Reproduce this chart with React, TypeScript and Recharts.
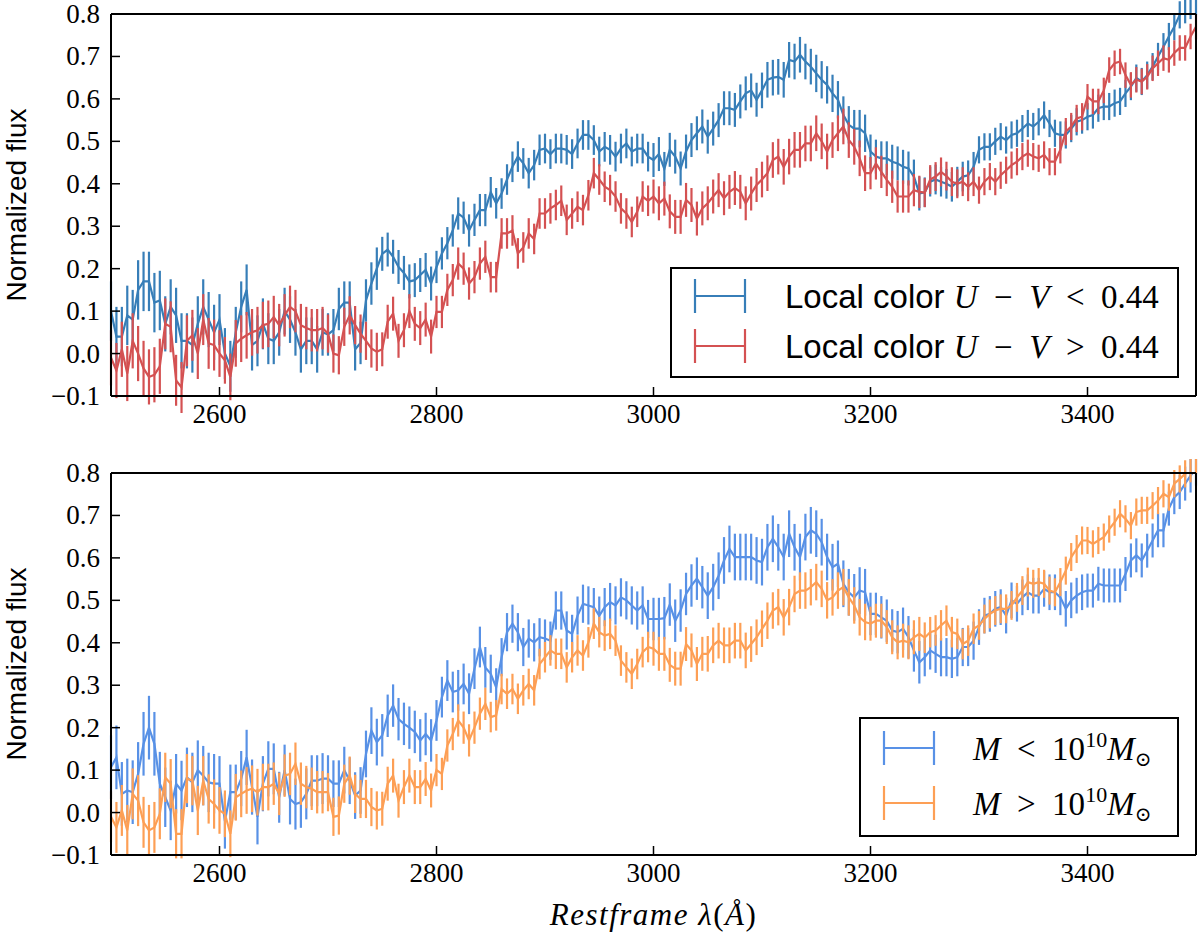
import React from "react";
import { LineChart, Line, XAxis, YAxis, ErrorBar, Legend } from "recharts";

// spectra sampled every 5 Å from 2500 Å
const WL_START = 2500;
const WL_STEP = 5;

const topBlue = [
  0.10, 0.04, 0.04, 0.09, 0.08, 0.15, 0.17, 0.17, 0.12, 0.125,
  0.07, 0.11, 0.09, 0.03, 0.03, 0.02, 0.07, 0.11, 0.08, 0.05,
  0.08, 0.00, -0.03, 0.05, 0.11, 0.15, 0.02, 0.03, 0.07, 0.035,
  0.03, 0.05, 0.10, 0.08, 0.05, 0.01, 0.03, 0.03, 0.01, 0.05,
  0.045, 0.055, 0.105, 0.12, 0.12, 0.01, 0.025, 0.125, 0.165, 0.20,
  0.235, 0.245, 0.228, 0.204, 0.19, 0.17, 0.173, 0.185, 0.197, 0.165,
  0.204, 0.236, 0.26, 0.29, 0.33, 0.32, 0.29, 0.315, 0.338, 0.338,
  0.38, 0.354, 0.377, 0.41, 0.44, 0.464, 0.448, 0.425, 0.444, 0.48,
  0.483, 0.47, 0.483, 0.483, 0.48, 0.47, 0.495, 0.515, 0.515, 0.503,
  0.476, 0.487, 0.48, 0.464, 0.483, 0.495, 0.476, 0.483, 0.483, 0.464,
  0.456, 0.47, 0.435, 0.48, 0.464, 0.436, 0.476, 0.503, 0.519, 0.535,
  0.511, 0.53, 0.55, 0.578, 0.578, 0.574, 0.594, 0.613, 0.62, 0.598,
  0.62, 0.645, 0.65, 0.652, 0.645, 0.692, 0.688, 0.704, 0.688, 0.676,
  0.66, 0.645, 0.633, 0.613, 0.598, 0.562, 0.539, 0.53, 0.53, 0.519,
  0.476, 0.464, 0.46, 0.46, 0.452, 0.448, 0.44, 0.436, 0.417, 0.377,
  0.38, 0.405, 0.41, 0.405, 0.40, 0.393, 0.405, 0.417, 0.42, 0.44,
  0.48, 0.487, 0.487, 0.50, 0.511, 0.503, 0.515, 0.519, 0.53, 0.542,
  0.535, 0.546, 0.562, 0.542, 0.519, 0.515, 0.515, 0.53, 0.546, 0.55,
  0.558, 0.562, 0.578, 0.582, 0.582, 0.59, 0.594, 0.613, 0.629, 0.649,
  0.641, 0.656, 0.676, 0.70, 0.723, 0.747, 0.77, 0.798, 0.81, 0.82,
  0.83,
];

const topRed = [
  -0.01, -0.04, 0.01, -0.047, 0.03, 0.0, -0.035, -0.055, -0.05, -0.03,
  0.07, 0.063, -0.063, -0.08, 0.03, 0.043, 0.0, 0.08, 0.024, 0.02,
  0.0, -0.016, -0.055, 0.024, 0.035, 0.043, 0.05, 0.055, 0.067, 0.07,
  0.086, 0.067, 0.09, 0.11, 0.10, 0.067, 0.06, 0.055, 0.055, 0.06,
  0.047, 0.0, -0.004, 0.063, 0.09, 0.067, 0.047, 0.03, 0.012, 0.004,
  0.01, 0.075, 0.094, 0.03, 0.055, 0.10, 0.07, 0.06, 0.08, 0.04,
  0.098, 0.098, 0.15, 0.173, 0.212, 0.20, 0.165, 0.18, 0.212, 0.228,
  0.18, 0.18, 0.283, 0.283, 0.29, 0.236, 0.25, 0.283, 0.27, 0.33,
  0.33, 0.342, 0.35, 0.36, 0.315, 0.33, 0.346, 0.338, 0.373, 0.425,
  0.41, 0.393, 0.385, 0.37, 0.342, 0.33, 0.31, 0.334, 0.37, 0.36,
  0.37, 0.354, 0.365, 0.335, 0.322, 0.322, 0.362, 0.35, 0.318, 0.342,
  0.354, 0.37, 0.385, 0.366, 0.381, 0.39, 0.381, 0.354, 0.377, 0.397,
  0.41, 0.425, 0.456, 0.464, 0.44, 0.464, 0.48, 0.48, 0.495, 0.495,
  0.519, 0.50, 0.476, 0.503, 0.519, 0.535, 0.503, 0.487, 0.46, 0.425,
  0.425, 0.448, 0.428, 0.409, 0.393, 0.37, 0.37, 0.37, 0.385, 0.381,
  0.379, 0.41, 0.417, 0.428, 0.418, 0.405, 0.40, 0.405, 0.393, 0.405,
  0.385, 0.405, 0.417, 0.405, 0.42, 0.432, 0.444, 0.452, 0.464, 0.472,
  0.464, 0.46, 0.468, 0.452, 0.452, 0.48, 0.523, 0.535, 0.554, 0.558,
  0.605, 0.594, 0.594, 0.62, 0.668, 0.684, 0.688, 0.656, 0.633, 0.645,
  0.641, 0.652, 0.672, 0.684, 0.696, 0.692, 0.708, 0.72, 0.72, 0.747,
  0.77,
];

const bottomBlue = [
  0.107, 0.13, 0.044, 0.052, 0.048, 0.091, 0.162, 0.20, 0.162, 0.068,
  0.036, 0.005, 0.068, 0.052, 0.083, 0.071, 0.10, 0.087, 0.071, 0.068,
  0.068, -0.02, 0.048, 0.048, 0.08, 0.13, 0.06, -0.01, 0.068, 0.103,
  0.103, 0.036, 0.10, 0.032, 0.02, 0.024, 0.044, 0.075, 0.075, 0.08,
  0.08, 0.068, 0.068, 0.10, 0.075, 0.04, 0.052, 0.138, 0.193, 0.166,
  0.182, 0.228, 0.252, 0.22, 0.209, 0.20, 0.19, 0.17, 0.185, 0.17,
  0.217, 0.272, 0.311, 0.284, 0.288, 0.303, 0.28, 0.339, 0.39, 0.342,
  0.327, 0.295, 0.366, 0.425, 0.445, 0.425, 0.39, 0.41, 0.401, 0.413,
  0.41, 0.405, 0.476, 0.476, 0.429, 0.421, 0.464, 0.492, 0.488, 0.484,
  0.464, 0.484, 0.496, 0.488, 0.507, 0.50, 0.488, 0.476, 0.488, 0.456,
  0.456, 0.456, 0.458, 0.49, 0.452, 0.476, 0.515, 0.535, 0.551, 0.531,
  0.511, 0.531, 0.558, 0.594, 0.621, 0.602, 0.602, 0.602, 0.602, 0.594,
  0.59, 0.625, 0.645, 0.625, 0.602, 0.657, 0.625, 0.602, 0.649, 0.665,
  0.657, 0.637, 0.602, 0.578, 0.586, 0.539, 0.519, 0.507, 0.523, 0.519,
  0.468, 0.468, 0.46, 0.452, 0.429, 0.425, 0.433, 0.413, 0.382, 0.354,
  0.366, 0.382, 0.374, 0.366, 0.366, 0.362, 0.366, 0.39, 0.39, 0.405,
  0.437, 0.464, 0.468, 0.48, 0.484, 0.464, 0.50, 0.492, 0.507, 0.519,
  0.511, 0.511, 0.527, 0.519, 0.519, 0.507, 0.48, 0.50, 0.511, 0.519,
  0.523, 0.523, 0.539, 0.535, 0.535, 0.535, 0.535, 0.562, 0.594, 0.606,
  0.594, 0.617, 0.641, 0.665, 0.665, 0.716, 0.743, 0.755, 0.775, 0.794,
  0.81,
];

const bottomOrange = [
  -0.01, -0.035, 0.005, -0.042, 0.044, 0.028, -0.023, -0.042, -0.035, -0.003,
  0.083, 0.068, -0.05, -0.05, 0.08, 0.075, 0.005, 0.075, 0.032, 0.02,
  0.005, -0.003, -0.05, 0.036, 0.044, 0.052, 0.056, 0.048, 0.06, 0.06,
  0.068, 0.044, 0.087, 0.091, 0.115, 0.068, 0.06, 0.056, 0.048, 0.048,
  0.048, -0.01, -0.007, 0.068, 0.087, 0.044, 0.032, 0.032, 0.013, 0.005,
  0.009, 0.068, 0.087, 0.028, 0.06, 0.087, 0.06, 0.06, 0.079, 0.052,
  0.10, 0.091, 0.158, 0.185, 0.217, 0.20, 0.17, 0.20, 0.233, 0.256,
  0.225, 0.229, 0.291, 0.28, 0.291, 0.268, 0.288, 0.303, 0.288, 0.35,
  0.366, 0.382, 0.374, 0.374, 0.342, 0.366, 0.382, 0.37, 0.401, 0.445,
  0.425, 0.417, 0.421, 0.405, 0.358, 0.342, 0.327, 0.35, 0.378, 0.39,
  0.386, 0.374, 0.374, 0.348, 0.339, 0.339, 0.397, 0.382, 0.35, 0.374,
  0.374, 0.394, 0.405, 0.394, 0.394, 0.405, 0.405, 0.382, 0.397, 0.413,
  0.433, 0.452, 0.476, 0.484, 0.46, 0.484, 0.515, 0.523, 0.523, 0.531,
  0.543, 0.527, 0.50, 0.507, 0.523, 0.531, 0.507, 0.488, 0.46, 0.449,
  0.445, 0.452, 0.452, 0.437, 0.413, 0.401, 0.405, 0.401, 0.413, 0.421,
  0.412, 0.425, 0.429, 0.441, 0.452, 0.425, 0.421, 0.397, 0.405, 0.433,
  0.441, 0.456, 0.468, 0.476, 0.48, 0.48, 0.488, 0.507, 0.523, 0.543,
  0.539, 0.543, 0.539, 0.523, 0.519, 0.543, 0.57, 0.602, 0.621, 0.641,
  0.641, 0.633, 0.641, 0.649, 0.668, 0.684, 0.704, 0.692, 0.676, 0.708,
  0.712, 0.712, 0.723, 0.735, 0.751, 0.743, 0.775, 0.786, 0.798, 0.81,
  0.83,
];

// half-length of the error bars, one value per 50 Å block
const topBlueErr = [0.07, 0.065, 0.06, 0.055, 0.05, 0.04, 0.038, 0.036, 0.035, 0.035, 0.04, 0.04, 0.042, 0.044, 0.04, 0.035, 0.032, 0.032, 0.032, 0.032, 0.032];
const topRedErr = [0.065, 0.06, 0.055, 0.05, 0.045, 0.04, 0.038, 0.036, 0.036, 0.036, 0.04, 0.04, 0.042, 0.042, 0.038, 0.034, 0.032, 0.032, 0.03, 0.03, 0.03];
const bottomBlueErr = [0.075, 0.07, 0.065, 0.06, 0.055, 0.05, 0.048, 0.045, 0.045, 0.045, 0.05, 0.055, 0.055, 0.055, 0.05, 0.045, 0.042, 0.042, 0.04, 0.04, 0.04];
const bottomOrangeErr = [0.06, 0.058, 0.055, 0.05, 0.045, 0.04, 0.038, 0.036, 0.036, 0.036, 0.04, 0.042, 0.043, 0.043, 0.04, 0.036, 0.034, 0.033, 0.032, 0.032, 0.032];

const xTicks = [2600, 2800, 3000, 3200, 3400];
const yTicks = [-0.1, 0, 0.1, 0.2, 0.3, 0.4, 0.5, 0.6, 0.7, 0.8];

const TOP_COLORS = ["#377eb8", "#d45152"];
const BOTTOM_COLORS = ["#5891e6", "#fd9f55"];

const SERIF = "'Liberation Serif', 'Times New Roman', serif";
const SANS = "'Liberation Sans', Arial, sans-serif";

function buildRows(a: number[], aErr: number[], b: number[], bErr: number[]) {
  return a.map((v, i) => ({
    wl: WL_START + WL_STEP * i,
    a: v,
    aErr: aErr[Math.floor(i / 10)],
    b: b[i],
    bErr: bErr[Math.floor(i / 10)],
  }));
}

const fmtY = (v: number) => (v < 0 ? "\u2212" + Math.abs(v).toFixed(1) : v.toFixed(1));

function XTick({ x, y, payload }: any) {
  return (
    <text x={x} y={y + 19} textAnchor="middle" fontFamily={SERIF} fontSize={27} fill="#000">
      {payload.value}
    </text>
  );
}

function YTick({ x, y, payload }: any) {
  return (
    <text x={x} y={y + 9} textAnchor="end" fontFamily={SERIF} fontSize={27} fill="#000">
      {fmtY(payload.value)}
    </text>
  );
}

function YLabel({ viewBox }: any) {
  const vb = viewBox || { x: 0, y: 14, width: 111, height: 382 };
  const cy = vb.y + vb.height / 2;
  return (
    <text transform={`translate(26, ${cy}) rotate(-90)`} textAnchor="middle" fontFamily={SANS} fontSize={28} fill="#000">
      Normalized flux
    </text>
  );
}

function XLabel({ viewBox }: any) {
  const vb = viewBox || { x: 111, y: 396, width: 1085, height: 84 };
  return (
    <text x={vb.x + vb.width / 2} y={vb.y + 70} textAnchor="middle" fontFamily={SERIF} fontSize={31} fontStyle="italic" letterSpacing={1.5} fill="#000">
      Restframe λ<tspan fontStyle="normal">(</tspan>Å<tspan fontStyle="normal">)</tspan>
    </text>
  );
}

function Glyph({ cy, color }: { cy: number; color: string }) {
  return (
    <g stroke={color} strokeWidth={2.2}>
      <line x1={25} x2={75} y1={cy} y2={cy} />
      <line x1={25} x2={25} y1={cy - 17} y2={cy + 17} />
      <line x1={75} x2={75} y1={cy - 17} y2={cy + 17} />
    </g>
  );
}

function ColorLabel({ y, op }: { y: number; op: string }) {
  return (
    <text x={115} y={y} fontSize={33} fill="#000">
      <tspan fontFamily={SANS}>Local color </tspan>
      <tspan fontFamily={SERIF} fontStyle="italic">U</tspan>
      <tspan fontFamily={SERIF}>{"\u2002\u2212\u2002"}</tspan>
      <tspan fontFamily={SERIF} fontStyle="italic">V</tspan>
      <tspan fontFamily={SERIF}>{"\u2002" + op + "\u20020.44"}</tspan>
    </text>
  );
}

function MassLabel({ y, op }: { y: number; op: string }) {
  return (
    <text x={114} y={y} fontSize={33} fill="#000" fontFamily={SERIF}>
      <tspan fontStyle="italic">M</tspan>
      <tspan>{"\u2002" + op + "\u200210"}</tspan>
      <tspan fontSize={22} dy={-13}>10</tspan>
      <tspan fontStyle="italic" dy={13}>M</tspan>
      <tspan fontSize={20} dy={6} fontFamily="'DejaVu Serif', serif">⊙</tspan>
    </text>
  );
}

const colorLegend = () => (
  <svg width={509} height={111} style={{ display: "block" }}>
    <rect x={1} y={1} width={507} height={109} fill="#fff" stroke="#000" strokeWidth={2} />
    <Glyph cy={29} color={TOP_COLORS[0]} />
    <ColorLabel y={41} op="<" />
    <Glyph cy={79} color={TOP_COLORS[1]} />
    <ColorLabel y={91} op=">" />
  </svg>
);

const massLegend = () => (
  <svg width={320} height={120} style={{ display: "block" }}>
    <rect x={1} y={1} width={318} height={118} fill="#fff" stroke="#000" strokeWidth={2} />
    <Glyph cy={31} color={BOTTOM_COLORS[0]} />
    <MassLabel y={43} op="<" />
    <Glyph cy={86} color={BOTTOM_COLORS[1]} />
    <MassLabel y={98} op=">" />
  </svg>
);

const axisLine = { stroke: "#000", strokeWidth: 2 };
const tickLine = { stroke: "#000", strokeWidth: 1.5 };

function Panel({ rows, colors, legend, legendBox, top, height, xLabel }: any) {
  return (
    <div style={{ position: "absolute", left: 0, top }}>
      <LineChart width={1200} height={height} data={rows} margin={{ top: 13, right: 3, bottom: 0, left: 0 }}>
        <XAxis
          xAxisId="bottom"
          dataKey="wl"
          type="number"
          domain={[2500, 3500]}
          ticks={xTicks}
          interval={0}
          allowDataOverflow
          height={xLabel ? 84 : 44}
          axisLine={axisLine}
          tickLine={tickLine}
          tickSize={-9}
          tickMargin={17}
          tick={<XTick />}
          label={xLabel ? <XLabel /> : undefined}
        />
        <XAxis
          xAxisId="top"
          orientation="top"
          dataKey="wl"
          type="number"
          domain={[2500, 3500]}
          ticks={xTicks}
          interval={0}
          allowDataOverflow
          height={1}
          axisLine={axisLine}
          tickLine={tickLine}
          tickSize={-9}
          tick={false}
        />
        <YAxis
          yAxisId="left"
          type="number"
          domain={[-0.1, 0.8]}
          ticks={yTicks}
          interval={0}
          allowDataOverflow
          width={111}
          axisLine={axisLine}
          tickLine={tickLine}
          tickSize={-9}
          tickMargin={20}
          tick={<YTick />}
          label={<YLabel />}
        />
        <YAxis
          yAxisId="right"
          orientation="right"
          type="number"
          domain={[-0.1, 0.8]}
          ticks={yTicks}
          interval={0}
          allowDataOverflow
          width={1}
          axisLine={axisLine}
          tickLine={tickLine}
          tickSize={-9}
          tick={false}
        />
        <Line xAxisId="bottom" yAxisId="left" type="linear" dataKey="a" stroke={colors[0]} strokeWidth={2.2} dot={false} isAnimationActive={false}>
          <ErrorBar dataKey="aErr" direction="y" width={0} stroke={colors[0]} strokeWidth={2.2} isAnimationActive={false} />
        </Line>
        <Line xAxisId="bottom" yAxisId="left" type="linear" dataKey="b" stroke={colors[1]} strokeWidth={2.2} dot={false} isAnimationActive={false}>
          <ErrorBar dataKey="bErr" direction="y" width={0} stroke={colors[1]} strokeWidth={2.2} isAnimationActive={false} />
        </Line>
        <Legend
          layout="horizontal"
          verticalAlign="middle"
          align="center"
          content={legend}
          wrapperStyle={{ position: "absolute", ...legendBox }}
        />
      </LineChart>
    </div>
  );
}

const topRows = buildRows(topBlue, topBlueErr, topRed, topRedErr);
const bottomRows = buildRows(bottomBlue, bottomBlueErr, bottomOrange, bottomOrangeErr);

export default function App() {
  return (
    <div style={{ position: "absolute", left: 0, top: 0, width: 1200, height: 939, background: "#fff", overflow: "hidden" }}>
      <Panel
        rows={topRows}
        colors={TOP_COLORS}
        legend={colorLegend}
        legendBox={{ left: 670, top: 267, width: 509, height: 111 }}
        top={0}
        height={440}
        xLabel={false}
      />
      <Panel
        rows={bottomRows}
        colors={BOTTOM_COLORS}
        legend={massLegend}
        legendBox={{ left: 859, top: 258, width: 320, height: 120 }}
        top={459}
        height={480}
        xLabel
      />
    </div>
  );
}
